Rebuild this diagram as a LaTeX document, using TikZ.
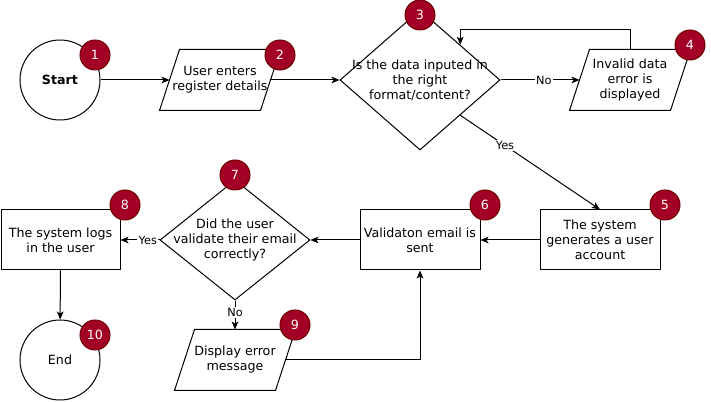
\documentclass[tikz,border=0pt]{standalone}
\usepackage{fontspec}
\setmainfont{DejaVu Sans}
\usetikzlibrary{shapes.geometric,arrows.meta}

\definecolor{badgered}{RGB}{162,0,37}
\definecolor{badgeline}{RGB}{111,0,0}
\newcommand{\flowfont}{\fontsize{9.5}{11.25}\selectfont}
\newcommand{\lblfont}{\fontsize{8.5}{10}\selectfont}
% slanted outline round an io node
\newcommand{\ioframe}[1]{\draw ([xshift=-7.5pt]#1.south west) -- ([xshift=-7.5pt]#1.south east) -- ([xshift=7.5pt]#1.north east) -- ([xshift=7.5pt]#1.north west) -- cycle;}

\tikzset{every picture/.style={line width=0.75pt}}
\tikzset{
  startend/.style={circle, draw, minimum size=60pt, inner sep=0pt, font=\flowfont},
  process/.style={rectangle, draw, minimum width=90pt, minimum height=45pt, inner sep=0pt, align=center, font=\flowfont},
  io/.style={rectangle, minimum width=75pt, minimum height=45pt, inner sep=0pt, align=center, font=\flowfont},
  decision/.style={diamond, draw, inner sep=0pt},
  txt/.style={align=center, inner sep=0pt, font=\flowfont},
  lbl/.style={fill=white, inner sep=1pt, font=\lblfont},
  flow/.style={-{Stealth[length=6pt,width=5pt,inset=1.5pt]}},
  badge/.style={circle, fill=badgered, draw=badgeline, text=white, minimum size=22.5pt, inner sep=0pt, font=\flowfont}
}

\begin{document}
\begin{tikzpicture}[x=0.75pt,y=0.75pt,yscale=-1,xscale=1]
\useasboundingbox (0,0) rectangle (711,402);

%Shape: Circle
\node[startend, font=\flowfont\bfseries] (start) at (60,80) {Start};
%Shape: Parallelogram
\node[io] (enter) at (220,80) {User enters\\register details};
\ioframe{enter}
%Shape: Diamond
\node[decision, minimum width=120pt, minimum height=105pt] (check) at (420,80) {};
% Text Node
\node[txt] (checktext) at (check) {Is the data inputed in\\the right\\format/content?};
%Shape: Parallelogram
\node[io] (invalid) at (630,80) {Invalid data\\error is\\displayed};
\ioframe{invalid}
%Shape: Rectangle
\node[process] (account) at (600,240) {The system\\generates a user\\account};
%Shape: Rectangle
\node[process] (email) at (420,240) {Validaton email is\\sent};
%Shape: Diamond
\node[decision, minimum width=112.5pt, minimum height=90pt] (validate) at (235,240) {};
% Text Node
\node[txt] (validatetext) at (validate) {Did the user\\validate their email\\correctly?};
%Shape: Rectangle
\node[process, minimum width=89.25pt] (login) at (60.5,240) {The system logs\\in the user};
%Shape: Circle
\node[startend] (end) at (60,360) {End};
%Shape: Parallelogram
\node[io] (error) at (235,360) {Display error\\message};
\ioframe{error}

%Straight Lines
\draw[flow] (start) -- (enter);
\draw[flow] (enter) -- (check);
\draw[flow] (check) -- node[lbl, pos=0.55] (nolbla) {No} (invalid);
\draw[flow] (invalid.north) -- ++(0,-20) -| (check.north east);
\draw[flow] (check.south east) -- node[lbl, pos=0.32] (yeslbla) {Yes} (account.north);
\draw[flow] (account) -- (email);
\draw[flow] (email) -- (validate);
\draw[flow] (validate) -- node[lbl, pos=0.3] (yeslblb) {Yes} (login);
\draw[flow] (login) -- (end);
\draw[flow] (validate) -- node[lbl, pos=0.4] (nolblb) {No} (error);
\draw[flow] (error.east) -| (email.south);

%Shape: Badges
\node[badge] (n1) at (95,55) {1};
\node[badge] (n2) at (280,55) {2};
\node[badge] (n3) at (420,15) {3};
\node[badge] (n4) at (690,45) {4};
\node[badge] (n5) at (665,205) {5};
\node[badge] (n6) at (485,205) {6};
\node[badge] (n7) at (235,175) {7};
\node[badge] (n8) at (125,205) {8};
\node[badge] (n9) at (295,325) {9};
\node[badge] (n10) at (95,335) {10};

\end{tikzpicture}
\end{document}
